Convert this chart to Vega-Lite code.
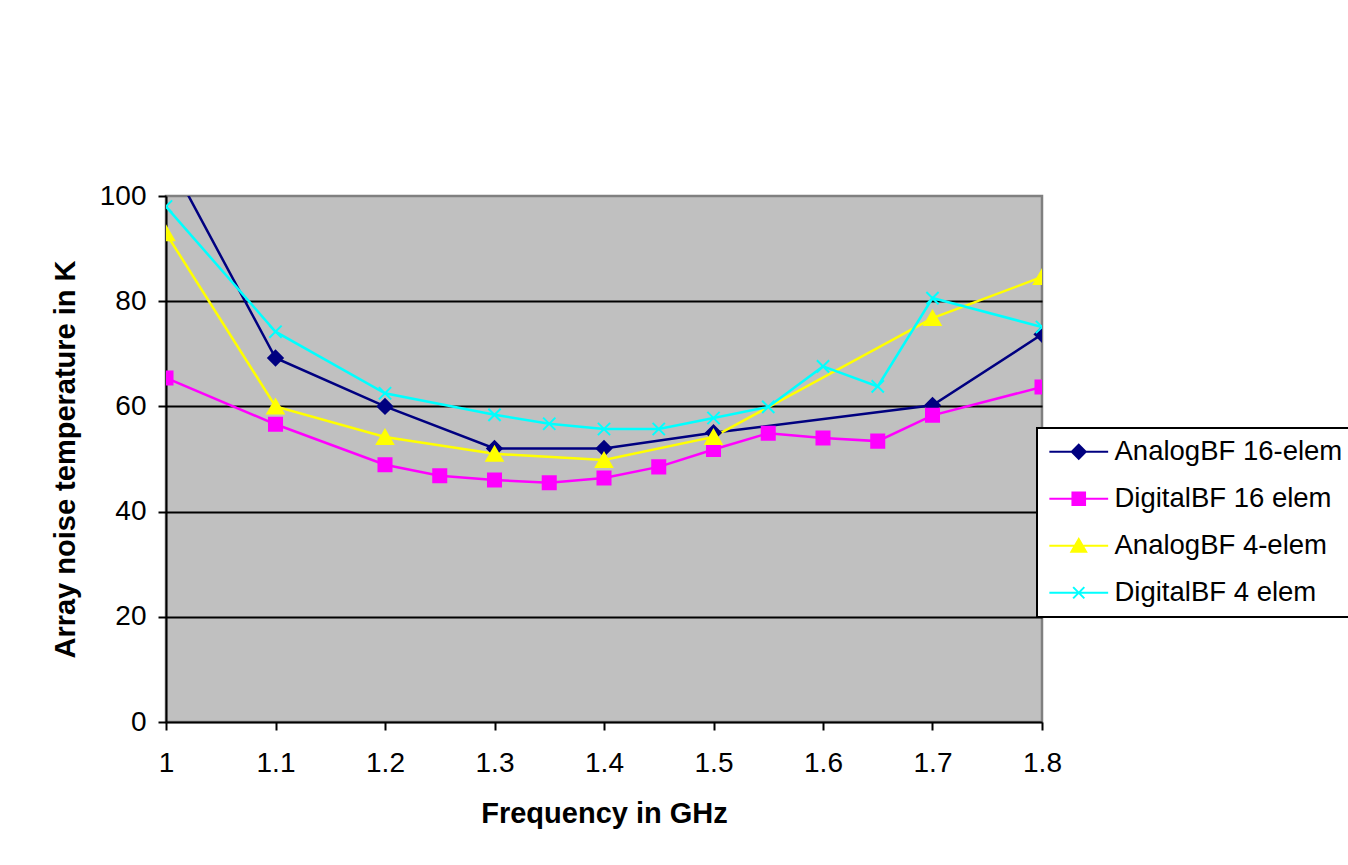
{
  "$schema": "https://vega.github.io/schema/vega-lite/v6.json",
  "autosize": {"type": "none"},
  "padding": {"left": 166, "top": 196, "right": 306, "bottom": 143},
  "width": 876,
  "height": 526,
  "background": "white",
  "config": {
    "font": "Liberation Sans",
    "view": {"fill": "#C0C0C0", "stroke": "#808080", "strokeWidth": 2.5},
    "legend": {"strokeColor": "black", "fillColor": "white", "strokeWidth": 2}
  },
  "data": {
    "values": [
      {"series": "AnalogBF 16-elem", "freq": 1.0, "temp": 108},
      {"series": "AnalogBF 16-elem", "freq": 1.1, "temp": 69.2},
      {"series": "AnalogBF 16-elem", "freq": 1.2, "temp": 60},
      {"series": "AnalogBF 16-elem", "freq": 1.3, "temp": 52},
      {"series": "AnalogBF 16-elem", "freq": 1.4, "temp": 52},
      {"series": "AnalogBF 16-elem", "freq": 1.5, "temp": 55},
      {"series": "AnalogBF 16-elem", "freq": 1.7, "temp": 60.2},
      {"series": "AnalogBF 16-elem", "freq": 1.8, "temp": 73.7},
      {"series": "DigitalBF 16 elem", "freq": 1.0, "temp": 65.4},
      {"series": "DigitalBF 16 elem", "freq": 1.1, "temp": 56.6},
      {"series": "DigitalBF 16 elem", "freq": 1.2, "temp": 48.9},
      {"series": "DigitalBF 16 elem", "freq": 1.25, "temp": 46.8},
      {"series": "DigitalBF 16 elem", "freq": 1.3, "temp": 46.0},
      {"series": "DigitalBF 16 elem", "freq": 1.35, "temp": 45.5},
      {"series": "DigitalBF 16 elem", "freq": 1.4, "temp": 46.4},
      {"series": "DigitalBF 16 elem", "freq": 1.45, "temp": 48.5},
      {"series": "DigitalBF 16 elem", "freq": 1.5, "temp": 51.8},
      {"series": "DigitalBF 16 elem", "freq": 1.55, "temp": 54.9},
      {"series": "DigitalBF 16 elem", "freq": 1.6, "temp": 54.0},
      {"series": "DigitalBF 16 elem", "freq": 1.65, "temp": 53.4},
      {"series": "DigitalBF 16 elem", "freq": 1.7, "temp": 58.3},
      {"series": "DigitalBF 16 elem", "freq": 1.8, "temp": 63.7},
      {"series": "AnalogBF 4-elem", "freq": 1.0, "temp": 92.9},
      {"series": "AnalogBF 4-elem", "freq": 1.1, "temp": 60},
      {"series": "AnalogBF 4-elem", "freq": 1.2, "temp": 54.2},
      {"series": "AnalogBF 4-elem", "freq": 1.3, "temp": 51},
      {"series": "AnalogBF 4-elem", "freq": 1.4, "temp": 49.8},
      {"series": "AnalogBF 4-elem", "freq": 1.5, "temp": 54.2},
      {"series": "AnalogBF 4-elem", "freq": 1.7, "temp": 76.8},
      {"series": "AnalogBF 4-elem", "freq": 1.8, "temp": 84.6},
      {"series": "DigitalBF 4 elem", "freq": 1.0, "temp": 98},
      {"series": "DigitalBF 4 elem", "freq": 1.1, "temp": 74.2},
      {"series": "DigitalBF 4 elem", "freq": 1.2, "temp": 62.5},
      {"series": "DigitalBF 4 elem", "freq": 1.3, "temp": 58.4},
      {"series": "DigitalBF 4 elem", "freq": 1.35, "temp": 56.7},
      {"series": "DigitalBF 4 elem", "freq": 1.4, "temp": 55.7},
      {"series": "DigitalBF 4 elem", "freq": 1.45, "temp": 55.7},
      {"series": "DigitalBF 4 elem", "freq": 1.5, "temp": 57.8},
      {"series": "DigitalBF 4 elem", "freq": 1.55, "temp": 59.9},
      {"series": "DigitalBF 4 elem", "freq": 1.6, "temp": 67.6},
      {"series": "DigitalBF 4 elem", "freq": 1.65, "temp": 63.8},
      {"series": "DigitalBF 4 elem", "freq": 1.7, "temp": 80.6},
      {"series": "DigitalBF 4 elem", "freq": 1.8, "temp": 75.1}
    ]
  },
  "encoding": {
    "x": {
      "field": "freq",
      "type": "quantitative",
      "scale": {"domain": [1, 1.8], "nice": false, "zero": false},
      "axis": {
        "title": "Frequency in GHz",
        "values": [1, 1.1, 1.2, 1.3, 1.4, 1.5, 1.6, 1.7, 1.8],
        "format": ".1~f",
        "grid": false,
        "domainColor": "black",
        "domainWidth": 2,
        "tickColor": "black",
        "tickWidth": 2,
        "tickSize": 8,
        "labelFontSize": 28,
        "labelColor": "black",
        "labelPadding": 19,
        "labelFlush": false,
        "labelOverlap": false,
        "labelBound": false,
        "titleFontSize": 29,
        "titleFontWeight": "bold",
        "titleColor": "black",
        "titlePadding": 22
      }
    },
    "y": {
      "field": "temp",
      "type": "quantitative",
      "scale": {"domain": [0, 100], "nice": false},
      "axis": {
        "title": "Array noise temperature in K",
        "values": [0, 20, 40, 60, 80, 100],
        "grid": true,
        "gridColor": {"condition": {"test": "datum.value === 100 || datum.value === 0", "value": "transparent"}, "value": "black"},
        "gridWidth": 2,
        "domainColor": "black",
        "domainWidth": 2,
        "tickColor": "black",
        "tickWidth": 2,
        "tickSize": 8,
        "labelFontSize": 28,
        "labelColor": "black",
        "labelPadding": 12,
        "labelOverlap": false,
        "labelBound": false,
        "titleFontSize": 29,
        "titleFontWeight": "bold",
        "titleColor": "black",
        "titlePadding": 19
      }
    }
  },
  "layer": [
    {
      "mark": {"type": "line", "strokeWidth": 2.5, "clip": true},
      "encoding": {
        "color": {
          "field": "series",
          "type": "nominal",
          "scale": {
            "domain": ["AnalogBF 16-elem", "DigitalBF 16 elem", "AnalogBF 4-elem", "DigitalBF 4 elem"],
            "range": ["#000080", "#FF00FF", "#FFFF00", "#00FFFF"]
          },
          "legend": {
            "title": null,
            "orient": "none",
            "legendX": 871,
            "legendY": 232,
            "padding": 10,
            "rowPadding": 18,
            "symbolSize": 196,
            "symbolOffset": 18,
            "labelOffset": 22,
            "labelFontSize": 27.5,
            "labelColor": "black",
            "labelLimit": 0,
            "symbolStrokeWidth": 2,
            "encoding": {
              "symbols": {
                "shape": {"value": {"expr": "datum.value === 'AnalogBF 16-elem' ? 'M-4.2,0H4.2M0,-1L1,0L0,1L-1,0Z' : datum.value === 'DigitalBF 16 elem' ? 'M-4.2,0H4.2M-0.9,-0.9H0.9V0.9H-0.9Z' : datum.value === 'AnalogBF 4-elem' ? 'M-4.2,0H4.2M0,-0.95L1.05,0.85L-1.05,0.85Z' : 'M-4.2,0H4.2M-0.8,-0.8L0.8,0.8M-0.8,0.8L0.8,-0.8'"}},
                "fill": {"value": {"expr": "scale('color', datum.value)"}},
                "stroke": {"value": {"expr": "scale('color', datum.value)"}},
                "strokeWidth": {"value": 2},
                "size": {"value": 196},
                "opacity": {"value": 1}
              }
            }
          }
        }
      }
    },
    {
      "transform": [{"filter": "datum.series === 'AnalogBF 16-elem'"}],
      "mark": {"type": "point", "shape": "diamond", "size": 210, "filled": true, "fill": "#000080", "stroke": "#000080", "strokeWidth": 2, "opacity": 1, "clip": true}
    },
    {
      "transform": [{"filter": "datum.series === 'DigitalBF 16 elem'"}],
      "mark": {"type": "point", "shape": "square", "size": 170, "filled": true, "fill": "#FF00FF", "stroke": "#FF00FF", "strokeWidth": 2, "opacity": 1, "clip": true}
    },
    {
      "transform": [{"filter": "datum.series === 'AnalogBF 4-elem'"}],
      "mark": {"type": "point", "shape": "triangle-up", "size": 260, "filled": true, "fill": "#FFFF00", "stroke": "#FFFF00", "strokeWidth": 2, "opacity": 1, "clip": true}
    },
    {
      "transform": [{"filter": "datum.series === 'DigitalBF 4 elem'"}],
      "mark": {"type": "point", "shape": "M-1,-1L1,1M-1,1L1,-1", "size": 150, "filled": false, "stroke": "#00FFFF", "strokeWidth": 2, "opacity": 1, "clip": true}
    }
  ]
}
